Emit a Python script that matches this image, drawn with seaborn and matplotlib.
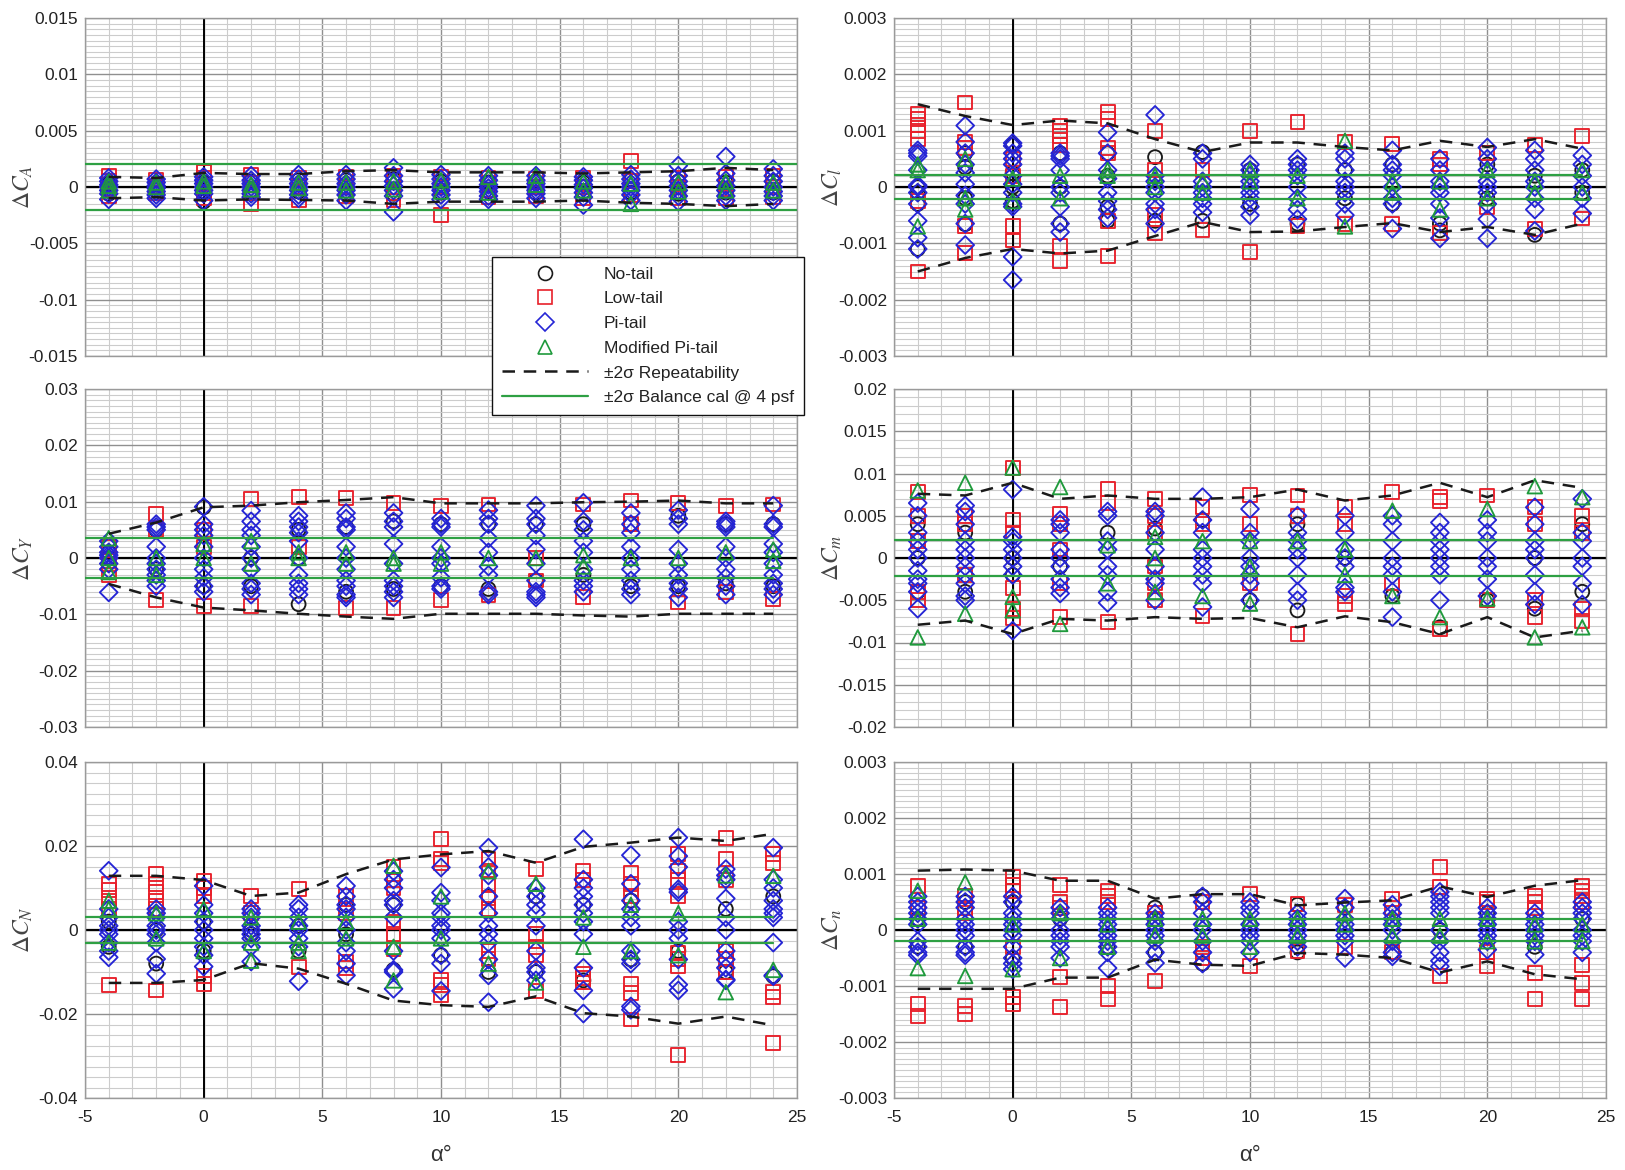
import numpy as np
import pandas as pd
import matplotlib
matplotlib.use("Agg")
import matplotlib.pyplot as plt
import seaborn as sns
from matplotlib.lines import Line2D
from matplotlib.ticker import MultipleLocator, FixedLocator

# ---------------- data ----------------
ALPHA = [-4, -2, 0, 2, 4, 6, 8, 10, 12, 14, 16, 18, 20, 22, 24]
CONFIGS = ["No-tail", "Low-tail", "Pi-tail", "Modified Pi-tail"]
XTICKS = [-5, 0, 5, 10, 15, 20, 25]
XTICK_LABELS = ["-5", "0", "5", "10", "15", "20", "25"]

# Delta C_A  (values in 1e-4)
CA_NO = [[3, -2, -6], [2, -3], [4, -4, -13], [5, -5], [6, -4], [6, -6], [7, -6], [5, -5], [4, -4], [5, -5], [4, -4], [6, -5], [5, -6], [4, -5], [5, -5]]
CA_LOW = [[10, 5, -2, -8], [6, 0, -5], [13, 8, -5, -10], [11, 4, -5, -15], [8, 0, -12], [9, 0, -8], [10, -5, -12], [9, 0, -25], [8, -3, -9], [7, 0, -8], [8, 0, -10], [23, 5, -7], [8, 0, -10], [9, -2, -10], [10, 0, -9]]
CA_PI = [[8, 5, 2, 0, -3, -6, -11], [7, 4, 1, -1, -4, -7, -10], [9, 6, 3, 0, -3, -6, -12], [10, 6, 3, 0, -3, -6, -9], [11, 7, 3, 0, -3, -7, -10], [11, 7, 3, 0, -3, -7, -12], [17, 10, 5, 1, -3, -8, -22], [11, 7, 3, 0, -3, -7, -11], [10, 6, 2, -1, -4, -8, -11], [10, 6, 3, 0, -3, -6, -10], [9, 6, 2, -1, -5, -9, -16], [11, 7, 3, 0, -3, -7, -12], [19, 10, 5, 1, -3, -8, -13], [27, 12, 6, 1, -3, -8, -12], [16, 10, 5, 0, -4, -8, -12]]
CA_MOD = [[5, 1, -3], [4, 0], [5, 1], [2, -2], [4, -1], [4, -3], [5, -2], [6, -4], [9, -5], [10, 2], [5, -3], [3, -15], [4, -4], [5, -3], [4, -3]]
CA_UP = [9, 8, 12.5, 11.5, 11.5, 14, 15, 13, 13, 13, 12, 13, 14, 17, 15]
CA_LO = [-10, -9, -12, -11, -11.5, -12, -15, -13, -13, -13, -12, -14, -15, -17, -15]

# Delta C_l  (values in 1e-4)
CL_NO = [[0, -1, -3, -11], [6, 3.5, -2, -6.6], [7.5, 2.5, 0, -2.5], [6, 0, -6.5], [6, 2, -3.5, -6], [5.3, -6], [6.2, -6], [3, -3], [4, -6.5], [3, -2], [4, -3], [-7.7, -6.5], [4, -2], [-8.5, 2], [3, -1]]
CL_LOW = [[13, 12, 11, 10, 8.5, -2.5, -15], [15, 8, 7, -7, -11.7], [5, 2, -7, -9.5], [10.8, 10, 9, 7.5, -10.5, -13.2], [13.3, 12, 7, 6, -6, -12.2], [9.9, 3, -5, -8.2], [3, -7.6], [10, -11.6], [11.5, -7], [8, -6.5], [7.6, -6.5], [5, 4, -8.2], [6, -3.5], [7.5, -7.5], [9.1, -5.6]]
CL_PI = [[6.5, 6, 5.5, 3, 0.3, 0, -1, -3, -6, -9, -11], [10.9, 8, 6, 4, 2.5, 0.5, -1.5, -3, -6.5, -10.3], [7.8, 7.3, 6, 5, 4, 2, 0.5, -1, -3, -3.5, -12.4, -16.5], [6, 5.5, 5, 3, 0, -1, -3.5, -6.5, -8], [9.7, 6, 3, 1.5, -1, -2.5, -4, -5.5], [12.8, 2, 1, 0, -1, -3, -4, -6.5], [6, 5, 1, 0, -1, -2, -3, -4.5], [4, 3, 2, 1, 0, -1, -2, -3.5, -5], [5, 4, 3, 2, 0, -2, -4, -5.7], [6, 5, 3, 1, 0, -1, -3, -5], [6.5, 4, 3, 2, 0, -2, -3, -7.4], [5, 3, 1, 0, -1, -3, -5.5, -9.1], [7, 5, 3, 1, 0, -1, -3, -5.7, -9.1], [6.5, 5, 3, 1, 0, -2, -4, -7.8], [5.6, 4, 2, 0, -2, -4.7]]
CL_MOD = [[4, 3, -7], [5, -2, -4], [1.5, -2.5], [2, -2], [3, 2], [2, 0], [1, -1], [3, 1], [2, -2], [8.2, -7], [1, -1], [-4, 1], [3, -2], [1, -1], [3, -1]]
CL_UP = [14.7, 12.6, 11, 11.8, 11.3, 8.5, 6.2, 7.9, 7.9, 7.1, 6.5, 8.2, 7.1, 8.5, 6.8]
CL_LO = [-15, -12.6, -11, -11.8, -11.3, -8.7, -6.2, -8, -7.9, -7.1, -6.4, -8, -7.1, -8.5, -6.5]

# Delta C_Y  (values in 1e-3)
CY_NO = [[0, 1], [5, -2], [9, -5], [0, -5], [-8.2, 0, 5], [5.5, -6], [6.5, -5.5], [6, -5], [6, -5.5], [6, -4], [6, -3], [6, -5], [7.5, -5], [6, -4.5], [6, -5]]
CY_LOW = [[2, -1, -3], [7.8, 5, -7.4], [5, 2, -8.5], [10.5, -8.5], [10.8, 2], [10.6, -8.8], [9.8, -8.8], [9.3, -7.5], [9.5, -6.5], [0, -4], [9.5, -7], [10.2, 6], [9.8, -7.9], [9.3, -6], [9.5, -7.3]]
CY_PI = [[3, 2, 1, 0.5, 0, -1, -2, -6.1], [6, 5.5, 5, 2, 0, -1, -2, -3, -4, -5], [9.1, 6, 5, 4, 2, 0, -2, -3.5, -5, -6], [8.4, 6.5, 5, 4, 2, 0, -2, -4.5, -5.5, -6.5], [7.5, 6.5, 5.5, 4.5, 3, 0, -3, -4.5, -5.5, -6.5], [8, 7, 5.5, 5, 2, 0, -2, -4, -5, -6.5, -7], [8, 6.5, 5.5, 2.5, -1, -4, -5, -6, -7], [7, 6, 5.5, 2, 0, -1, -3.5, -5, -5.5], [8.5, 7, 6, 3.5, 1, -1.5, -3, -6, -6.5], [9.3, 7, 6, 4, 1.5, -1, -4, -6, -6.5, -7], [9.8, 6.5, 5, 3, 1, -2, -4, -5, -6], [8, 6, 4.5, 2, 0, -2, -4, -5.5, -6.5], [8.5, 7, 6, 1.5, -1, -3, -4.5, -5.5, -7], [6.5, 6, 5.5, 2, 0, -2, -3.5, -5, -6.5], [9.3, 6, 5.5, 2.5, 1, -1, -3, -4.5, -5.5, -6.5]]
CY_MOD = [[3.5, 0, -2.5], [0, -3], [0, 2.5], [3, -1], [0, 1], [-1, 1], [0, -1], [1, -1], [0], [0], [0.5, -1.5], [0], [0], [1], [1.5, -0.5]]
CY_UP = [4.3, 6.3, 9, 9.3, 9.9, 10.3, 10.8, 9.7, 9.7, 9.7, 9.9, 10, 10.2, 9.7, 9.7]
CY_LO = [-4.6, -7, -8.8, -9.3, -9.9, -10.4, -10.8, -9.9, -9.9, -9.9, -10.2, -10.4, -9.9, -9.9, -9.9]

# Delta C_m  (values in 1e-3)
CM_NO = [[-4, 0, 4], [3, -4], [0, -2], [-1], [3], [3.5], [4.5], [-5], [-6.2, 4], [0], [-4.5], [-8.2], [-5], [0, -6], [4, -4]]
CM_LOW = [[7.8, 5, 2, -4, -5], [5, 4, -2], [10.7, 4.5, 3, -3.5, -6, -7.1], [5.2, 4, 1, -3, -7], [8.2, 6.5, -7.6], [7, 5, 3, -1, -3, -5], [6, 4, -6.9], [7.5, 4, -3], [7.4, 5, -9], [6, 4, -4.5, -5.4], [7.8, -3], [7.2, 6.7, -8.4], [7.4, -5], [6, 4, -5, -7], [5, 3, -6, -7.5]]
CM_PI = [[6.5, 5, 3, 2, 1, 0, -1.5, -2.5, -3, -4, -6], [6.2, 5.5, 4, 2, 1, 0, -1, -2, -3, -4.5, -5], [8.1, 2.5, 2, 1, 0, -1, -2, -8.6], [4.5, 4, 3, 1, 0, -1, -2.5, -3.5, -4.2], [5.5, 5, 2, 1, -1, -2, -4, -5.3], [5.5, 5, 3, 1, -1, -2.5, -3, -5], [7.2, 4.5, 3, 1, 0, -1, -2, -3, -5.8], [5.8, 3, 2, 0, -1, -2, -3, -5], [5, 3, 2, 1, 0, -2, -4, -5], [5, 3, 1, 0, -1, -3.5, -4], [5, 4, 2, 0, -1, -2, -4, -7], [4.2, 3, 2, 1, 0, -1, -2, -5], [4.5, 3, 2, 0, -1, -2.5, -4.5], [6, 4, 2, 1, 0, -2, -4, -5.5], [7, 3, 2, 0, -1, -3, -5.5]]
CM_MOD = [[8, -9.4], [8.9, -6.6], [10.7, -4.6, -6.2], [8.4, -7.8], [1.5, -3], [2.5, 0, -4], [2, -4.5], [-5.4, 2, -1], [2], [1, -2], [5.6, -4.5], [-7], [5.8, -4.8], [8.5, -9.4], [7.2, -8.2]]
CM_UP = [7.6, 7.4, 8.9, 7, 7.4, 7, 7, 7.2, 8.1, 6.8, 7.4, 8.9, 7.2, 9.2, 8.3]
CM_LO = [-7.9, -7.4, -9, -7.2, -7.4, -7, -7.2, -7.1, -8.2, -6.9, -7.6, -9, -7, -9.4, -8.6]

# Delta C_N  (values in 1e-3)
CN_NO = [[2, -4], [-8, 0], [2, -5], [0, -1], [1, -5], [6, -1], [-9.5, 6], [-6], [8, -10], [8, -10], [6, -12], [7, -7], [-5], [5, -10], [-11, 8]]
CN_LOW = [[11, 9.5, 7, 5, -13.2], [13.3, 11, 9, 7, 5, -14.4], [11.7, 10, 8, -11, -12.8], [8.1, 4], [9.7, -8.9], [8, 4, -7.5, -9], [14.9, 12, 10, 2, -1, -4.5], [21.6, 16.8, 16, -12, -13, -15.6], [17, 14, 11, 7.5, 5, -5, -7], [14.5, -1, -4, -6, -14.5], [14, 12, -10.5, -11.5, -12.5], [13.5, 11, 8, -12.8, -15, -21.3], [18, 14, 12, 8, -5.5, -7, -8.5, -29.8], [22, 16.8, 12, -5, -7, -9.9], [18, 16, -14.8, -16, -26.9]]
CN_PI = [[14.1, 5, 3, 1, 0, -1, -3, -5, -6.5], [5, 4, 3, 1, 0, -1, -3, -6.9, -10.4], [10.5, 6, 4, 2, 0, -2, -4, -6, -8.7], [5, 4, 3, 1, 0, -1, -2, -4, -7.5], [6, 5, 3, 1, 0, -2, -4, -12.2], [10.5, 8, 6, 5, 3, 0, -3, -5, -8, -10.8], [14, 12, 10, 7, 6, 3, -5, -9.5, -10, -14], [14.9, 8.9, 7, 4, 3, 1, 0, -2, -6, -8, -14.5], [19.6, 15, 13, 8, 4, 1, -1, -3, -7, -10.8, -17.2], [10, 8, 6, 4, 1, -5, -9, -10, -12], [21.6, 12, 10, 8, 6, 4, 2, -1, -9, -14.4, -19.9], [17.8, 11, 7, 5, 3, 1, -5, -7, -8, -18.2, -19], [22, 17.6, 15, 9.7, 9, 2, 0, -2, -7, -13, -14.4], [14.5, 13, 12, 7.5, 3, 0, -5, -7, -9, -11.8, -12], [19.6, 12, 10, 7, 5, 4, 3, -3, -10.8, -11]]
CN_MOD = [[7, 5, -3], [4, -2], [5, -5], [-7.3, 3, -3], [-5, 2, -3], [2, -2], [15.3, -4, -12], [8, -2], [14, -8], [11, -12.5], [-4, 3], [6, -5], [4, -6], [13, -14.8], [12.9, -9.5]]
CN_UP = [12.9, 12.9, 11.9, 8.1, 8.9, 13.3, 16.8, 18, 18.8, 16, 19.8, 20.8, 22, 21.2, 22.9]
CN_LO = [-12.6, -12.6, -11.9, -7.9, -9.2, -12.8, -16.8, -17.9, -18.3, -15.8, -19.8, -20.6, -22.3, -20.6, -22.7]

# Delta C_n  (values in 1e-4)
CNN_NO = [[2, -3], [5, -3], [5, -5], [2], [-3], [4, -4], [6, -6], [1], [4.5, -4], [4], [-4], [0], [3], [-3], [2]]
CNN_LOW = [[7.8, 4, -13.2, -15.3], [6, 4, 3, -13.5, -15], [9.4, 8, 7, -3, -12, -13.2], [8, 5, 4, -8.4, -13.7], [7, 6, 5, -10, -12.4], [3, 2, -9.1], [5, -3, -4, -5], [6.5, -6.5], [4.7, -3.8], [4.5, -3], [5.5, 4, -4], [11.2, 7.6, -8.2], [5.6, 5, -4, -6.5], [6, 5, 4, -7.6, -12.4], [7.9, 7, 6, 5, -6.2, -9.4, -12.4]]
CNN_PI = [[6, 5, 4, 3, 2, 1, -2, -3, -4, -4.5], [6, 5, 4, 2, 1, 0, -1, -3, -4, -4.5], [6, 5, 3, 2, 1, 0, -1, -3, -5, -6, -7], [4, 3, 2, 0, -1, -2, -3, -5], [4, 3, 2, 1, 0, -1, -2, -3, -4, -6.8], [3, 2, 1, 0, -1, -2, -4, -5.9], [6, 5, 3, 1, 0, -2, -4, -6], [5, 4, 3, 1, 0, -1, -2, -4], [3, 2, 1, 0, -1, -2, -3], [5.6, 4, 2, 1, 0, -1, -2, -5], [4.5, 3, 2, 1, 0, -2, -4, -4.7], [6.8, 6, 5, 4, 3, 0, -2, -4, -5.5, -6.5], [4, 3, 2, 1, 0, -1, -2, -3.5], [3, 2, 1, 0, -1, -2, -4.4], [5, 4, 3, 2, 0, -1, -2, -4]]
CNN_MOD = [[7, -6.8, 2], [8.5, -8.2], [-7, 1], [3, -5], [1, -3], [2, -1], [2, -1], [2, -3], [2, -1], [3, 1], [2, -1], [2, -1], [2, -2], [1, -2], [-2, 1]]
CNN_UP = [10.6, 10.8, 10.6, 8.8, 8.8, 5.6, 6.4, 6.4, 4.4, 4.9, 5.3, 7.8, 5.9, 7.9, 8.9]
CNN_LO = [-10.5, -10.5, -10.5, -8.5, -8.5, -5.3, -6.2, -6.4, -4.1, -4.4, -5.0, -7.6, -5.6, -7.9, -8.8]

# +/- 2 sigma balance calibration levels
BAL_CA, BAL_CL, BAL_CY, BAL_CM, BAL_CN, BAL_CNN = 0.002, 0.00022, 0.0035, 0.0021, 0.0032, 0.00019

YT_CA = ["-0.015", "-0.01", "-0.005", "0", "0.005", "0.01", "0.015"]
YT_CL = ["-0.003", "-0.002", "-0.001", "0", "0.001", "0.002", "0.003"]
YT_CY = ["-0.03", "-0.02", "-0.01", "0", "0.01", "0.02", "0.03"]
YT_CM = ["-0.02", "-0.015", "-0.01", "-0.005", "0", "0.005", "0.01", "0.015", "0.02"]
YT_CN = ["-0.04", "-0.02", "0", "0.02", "0.04"]
YT_CNN = ["-0.003", "-0.002", "-0.001", "0", "0.001", "0.002", "0.003"]

# ---------------- style ----------------
sns.set_theme(style="white")
plt.rcParams["font.family"] = ["Liberation Sans", "DejaVu Sans"]
plt.rcParams["mathtext.fontset"] = "stix"

COLORS = {"No-tail": "#1a1a1a", "Low-tail": "#e8202a", "Pi-tail": "#2525d5", "Modified Pi-tail": "#1f9a3c"}
MARKERS = {"No-tail": "o", "Low-tail": "s", "Pi-tail": "D", "Modified Pi-tail": "^"}
SIZES = {"No-tail": 100, "Low-tail": 100, "Pi-tail": 82, "Modified Pi-tail": 110}
DASH = (0, (5, 3.5))
GREEN = "#2ea043"

panels = [
    dict(label=r"$\mathit{\Delta C_A}$", unit=1e-4, data=[CA_NO, CA_LOW, CA_PI, CA_MOD], up=CA_UP, lo=CA_LO,
         bal=BAL_CA, bal_x=(-5, 25), lim=0.015, ticks=YT_CA, minor=0.0005),
    dict(label=r"$\mathit{\Delta C_l}$", unit=1e-4, data=[CL_NO, CL_LOW, CL_PI, CL_MOD], up=CL_UP, lo=CL_LO,
         bal=BAL_CL, bal_x=(-5, 24), lim=0.003, ticks=YT_CL, minor=0.0001),
    dict(label=r"$\mathit{\Delta C_Y}$", unit=1e-3, data=[CY_NO, CY_LOW, CY_PI, CY_MOD], up=CY_UP, lo=CY_LO,
         bal=BAL_CY, bal_x=(-5, 24), lim=0.03, ticks=YT_CY, minor=0.001),
    dict(label=r"$\mathit{\Delta C_m}$", unit=1e-3, data=[CM_NO, CM_LOW, CM_PI, CM_MOD], up=CM_UP, lo=CM_LO,
         bal=BAL_CM, bal_x=(-5, 24), lim=0.02, ticks=YT_CM, minor=0.001),
    dict(label=r"$\mathit{\Delta C_N}$", unit=1e-3, data=[CN_NO, CN_LOW, CN_PI, CN_MOD], up=CN_UP, lo=CN_LO,
         bal=BAL_CN, bal_x=(-5, 24), lim=0.04, ticks=YT_CN, minor=0.0025),
    dict(label=r"$\mathit{\Delta C_n}$", unit=1e-4, data=[CNN_NO, CNN_LOW, CNN_PI, CNN_MOD], up=CNN_UP, lo=CNN_LO,
         bal=BAL_CNN, bal_x=(-5, 24), lim=0.003, ticks=YT_CNN, minor=0.0001),
]

FW, FH = 1625, 1170
fig = plt.figure(figsize=(FW / 100, FH / 100), dpi=100)
col_left = [85, 894]
ax_w = 712
row_tb = [(18, 356), (389, 727), (762, 1098)]

for i, p in enumerate(panels):
    r, c = divmod(i, 2)
    top, bot = row_tb[r]
    ax = fig.add_axes([col_left[c] / FW, 1 - bot / FH, ax_w / FW, (bot - top) / FH])
    ax.set_facecolor("white")

    # grid
    ax.set_xlim(-5, 25)
    ax.set_ylim(-p["lim"], p["lim"])
    ax.xaxis.set_major_locator(FixedLocator(XTICKS))
    ax.xaxis.set_minor_locator(MultipleLocator(1))
    yt = [float(t) for t in p["ticks"]]
    ax.yaxis.set_major_locator(FixedLocator(yt))
    ax.yaxis.set_minor_locator(MultipleLocator(p["minor"]))
    ax.set_yticklabels(p["ticks"])
    if r == 2:
        ax.set_xticklabels(XTICK_LABELS)
    else:
        ax.set_xticklabels([])
    ax.grid(which="minor", color="#cccccc", lw=0.8)
    ax.grid(which="major", color="#8f8f8f", lw=1.0)
    ax.set_axisbelow(True)
    ax.tick_params(which="both", length=0, labelsize=12.5, labelcolor="#222222")
    ax.tick_params(axis="x", pad=9)
    ax.tick_params(axis="y", pad=5)
    for s in ax.spines.values():
        s.set_color("#9a9a9a")
        s.set_linewidth(1.0)

    ax.axhline(0, color="black", lw=1.6, zorder=1.5)
    ax.axvline(0, color="black", lw=1.4, zorder=1.5)

    # scatter of each configuration
    for cfg, vals in zip(CONFIGS, p["data"]):
        xs = [a for a, col in zip(ALPHA, vals) for _ in col]
        ys = [v * p["unit"] for col in vals for v in col]
        df = pd.DataFrame({"alpha": xs, "delta": ys})
        sns.scatterplot(data=df, x="alpha", y="delta", ax=ax, marker=MARKERS[cfg], s=SIZES[cfg],
                        color=COLORS[cfg], facecolor="none", edgecolor=COLORS[cfg],
                        linewidth=1.35, zorder=2, legend=False)

    # repeatability envelope and balance calibration
    ax.plot(ALPHA, np.array(p["up"]) * p["unit"], color="#1a1a1a", lw=1.8, ls=DASH, zorder=3)
    ax.plot(ALPHA, np.array(p["lo"]) * p["unit"], color="#1a1a1a", lw=1.8, ls=DASH, zorder=3)
    ax.plot(p["bal_x"], [p["bal"], p["bal"]], color=GREEN, lw=1.6, zorder=3)
    ax.plot(p["bal_x"], [-p["bal"], -p["bal"]], color=GREEN, lw=1.6, zorder=3)

    ax.set_ylabel(p["label"], fontsize=17, color="#444444")
    ax.yaxis.set_label_coords(-0.07, 0.5)
    if r == 2:
        ax.set_xlabel("α°", fontsize=16, color="#333333")
        ax.xaxis.set_label_coords(0.5, -0.14)
    else:
        ax.set_xlabel("")

handles = [
    Line2D([], [], ls="none", marker="o", mfc="none", mec=COLORS["No-tail"], ms=10, mew=1.2),
    Line2D([], [], ls="none", marker="s", mfc="none", mec=COLORS["Low-tail"], ms=10, mew=1.2),
    Line2D([], [], ls="none", marker="D", mfc="none", mec=COLORS["Pi-tail"], ms=9, mew=1.2),
    Line2D([], [], ls="none", marker="^", mfc="none", mec=COLORS["Modified Pi-tail"], ms=10.5, mew=1.2),
    Line2D([], [], color="#1a1a1a", lw=1.8, ls=DASH),
    Line2D([], [], color=GREEN, lw=1.6),
]
labels = CONFIGS + ["±2σ Repeatability", "±2σ Balance cal @ 4 psf"]
leg = fig.legend(handles, labels, loc="upper left", bbox_to_anchor=(492 / FW, 1 - 257 / FH),
                 fontsize=12.5, handlelength=5.0, labelspacing=0.55, borderpad=0.55,
                 handletextpad=0.9, frameon=True, fancybox=False, framealpha=1,
                 edgecolor="#111111", borderaxespad=0)
leg.get_frame().set_linewidth(1.0)
for t in leg.get_texts():
    t.set_color("#222222")

fig.savefig("out.png", dpi=100, facecolor="white")
